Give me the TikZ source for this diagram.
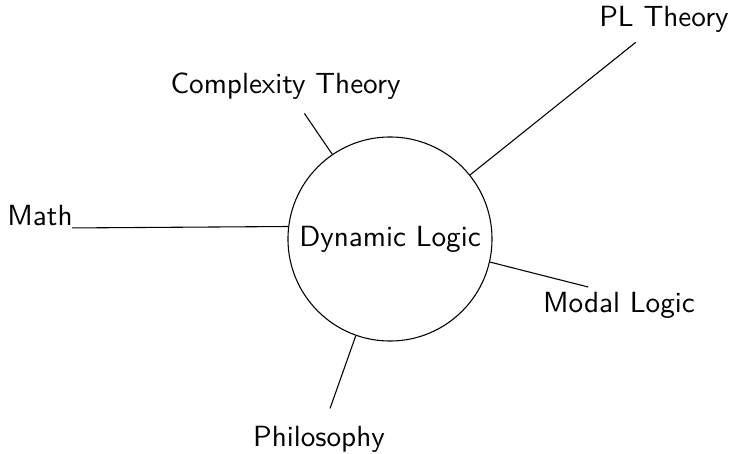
\documentclass[tikz,border=0pt]{standalone}
\begin{document}
\begin{tikzpicture}[x=0.37pt,y=-0.37pt,
  topic/.style={font=\sffamily\fontsize{10.8}{13}\selectfont},
  hub/.style={topic,circle,draw,inner sep=0pt,minimum size=75.5pt}]
  \useasboundingbox (0,0) rectangle (731,454);
  % centre and the fields round it
  \node[hub] (dl) at (390,239) {Dynamic Logic};
  \node[topic] (pl) at (664,19.7) {PL Theory};
  \node[topic] (ct) at (285.5,85.7) {Complexity Theory};
  \node[topic] (math) at (40,215.8) {Math};
  \node[topic] (ml) at (619,305.7) {Modal Logic};
  \node[topic] (phil) at (319,439.7) {Philosophy};
  % spokes
  \draw (dl) -- (pl);
  \draw[shorten >=2.2pt] (dl) -- (ct);
  \draw[shorten >=-3.7pt] (dl.173) -- (math.-16.5);
  \draw[shorten >=-6pt] (dl.-13.6) -- (ml.154.7);
  \draw[shorten >=3.4pt] (dl) -- (phil);
\end{tikzpicture}
\end{document}
